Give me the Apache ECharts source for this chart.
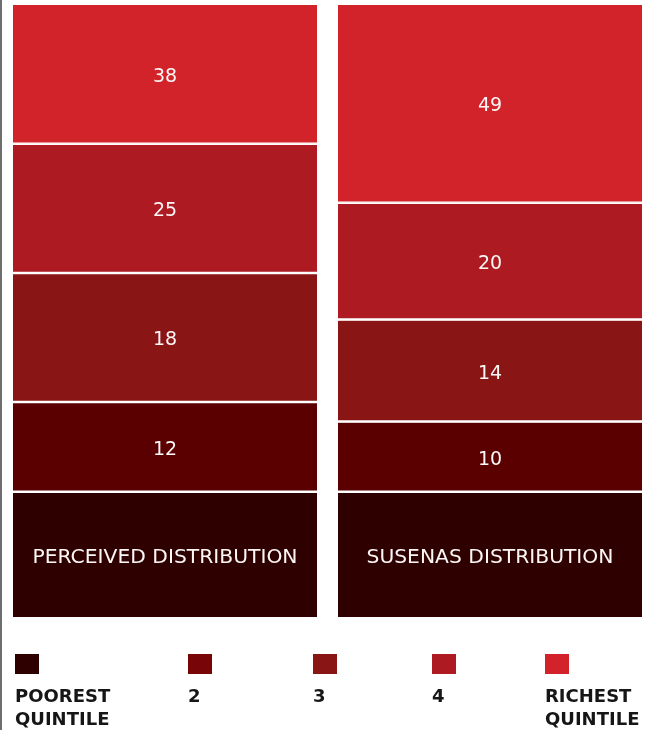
<!DOCTYPE html>
<html>
<head>
<meta charset="utf-8">
<script src="https://cdn.jsdelivr.net/npm/echarts@6/dist/echarts.min.js"></script>
<style>
html,body{margin:0;padding:0;background:#fff;}
#chart{width:654px;height:730px;}
</style>
</head>
<body>
<div id="chart"></div>
<script>
// Bars (categories)
const categories = ['PERCEIVED DISTRIBUTION', 'SUSENAS DISTRIBUTION'];
// Quintiles, bottom (poorest) to top (richest)
const quintiles = ['POOREST QUINTILE', '2', '3', '4', 'RICHEST QUINTILE'];
const legendLabels = ['POOREST\nQUINTILE', '2', '3', '4', 'RICHEST\nQUINTILE'];
// Printed values in each segment (poorest segment carries the bar's name instead)
const perceivedValues = [null, 12, 18, 25, 38];
const susenasValues = [null, 10, 14, 20, 49];
// Segment extent (% of bar height) as drawn in the picture
const perceivedShown = [20.6, 14.6, 21.0, 21.0, 22.8];
const susenasShown = [20.6, 11.4, 16.6, 19.0, 32.4];

const barColors = ['#2e0000', '#5a0000', '#8a1515', '#ad1a21', '#d2232a'];
const legendColors = ['#2e0000', '#780608', '#8a1515', '#ad1a21', '#d2232a'];
const legendLeft = [15, 188, 313, 432, 545];

const chart = echarts.init(document.getElementById('chart'), null, {renderer: 'canvas'});

const series = quintiles.map((q, i) => ({
  name: q,
  type: 'bar',
  stack: 'total',
  barWidth: 306.5,
  itemStyle: {color: legendColors[i], borderColor: '#fff', borderWidth: 1.25},
  data: [perceivedShown[i], susenasShown[i]].map(v => ({value: v, itemStyle: {color: barColors[i]}})),
  label: {
    show: true,
    position: 'inside',
    offset: [0, 3],
    color: '#fdf6f6',
    fontFamily: 'DejaVu Sans',
    fontWeight: 'normal',
    fontSize: i === 0 ? 20.3 : 19,
    formatter: p => i === 0 ? categories[p.dataIndex]
      : String((p.dataIndex === 0 ? perceivedValues : susenasValues)[i])
  },
  emphasis: {disabled: true},
  animation: false
}));

const legends = quintiles.map((q, i) => ({
  data: [q],
  left: legendLeft[i],
  top: 654,
  padding: 0,
  itemWidth: 24,
  itemHeight: 20,
  icon: 'rect',
  itemStyle: {borderWidth: 0},
  selectedMode: false,
  formatter: () => '',
  textStyle: {fontSize: 1}
}));

const graphics = [
  {type: 'rect', left: 0, top: 0, shape: {width: 2, height: 730}, style: {fill: '#6e6e6e'}}
].concat(legendLabels.map((t, i) => ({
  type: 'text',
  left: legendLeft[i],
  top: 686,
  style: {
    text: t,
    fill: '#161616',
    font: 'bold 18px "DejaVu Sans"',
    lineHeight: 22.7
  }
})));

chart.setOption({
  animation: false,
  grid: {left: 2.5, right: 1.5, top: 3.75, bottom: 111.75},
  xAxis: {type: 'category', data: categories, show: false},
  yAxis: {type: 'value', min: 0, max: 100, show: false},
  legend: legends,
  series: series,
  graphic: graphics
});
</script>
</body>
</html>
